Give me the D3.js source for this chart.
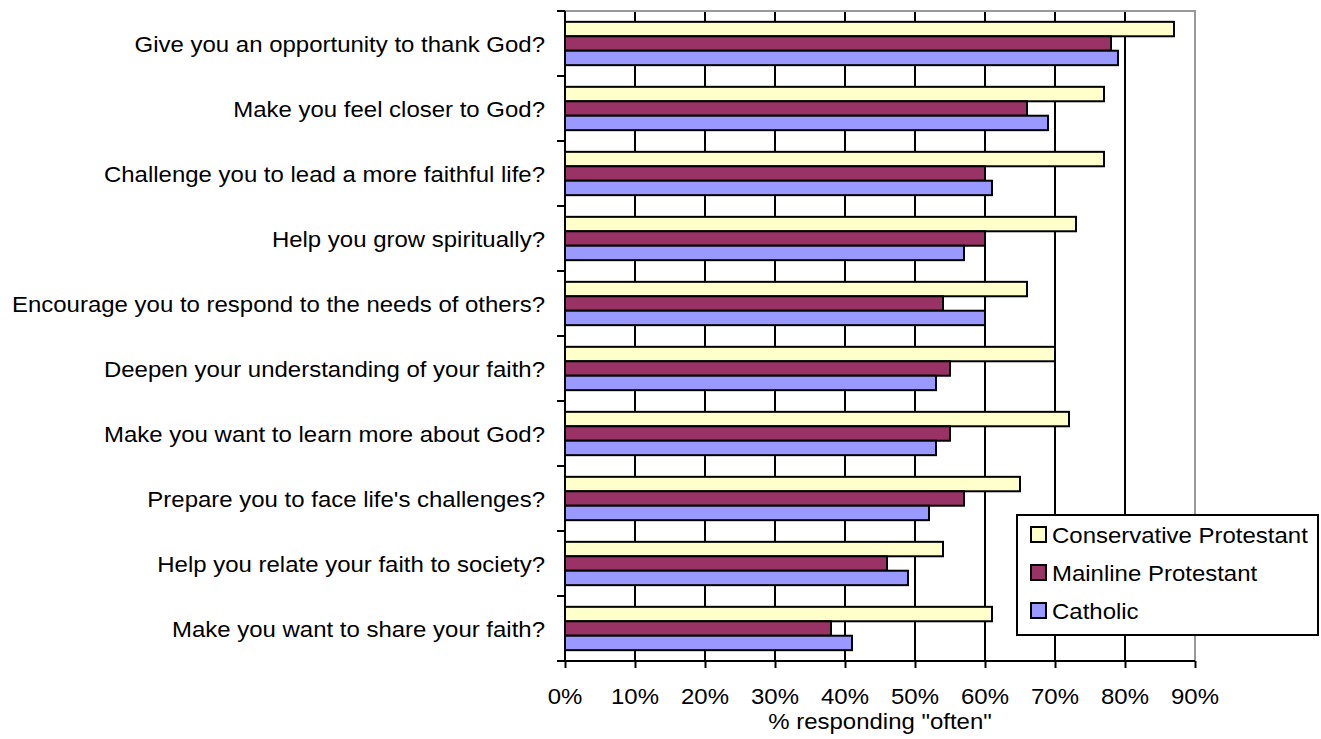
<!DOCTYPE html>
<html>
<head>
<meta charset="utf-8">
<script src="https://d3js.org/d3.v7.min.js"></script>
<style>
  body { margin: 0; background: #fff; }
  text { font-family: Arial, "Liberation Sans", sans-serif; fill: #000; }
</style>
</head>
<body>
<div id="chart"></div>
<script>
var categories = [
  "Give you an opportunity to thank God?",
  "Make you feel closer to God?",
  "Challenge you to lead a more faithful life?",
  "Help you grow spiritually?",
  "Encourage you to respond to the needs of others?",
  "Deepen your understanding of your faith?",
  "Make you want to learn more about God?",
  "Prepare you to face life's challenges?",
  "Help you relate your faith to society?",
  "Make you want to share your faith?"
];
var conservative = [87, 77, 77, 73, 66, 70, 72, 65, 54, 61];
var mainline = [78, 66, 60, 60, 54, 55, 55, 57, 46, 38];
var catholic = [79, 69, 61, 57, 60, 53, 53, 52, 49, 41];
var seriesNames = ["Conservative Protestant", "Mainline Protestant", "Catholic"];
var seriesColors = ["#FFFFCC", "#993366", "#9999FF"];
var xTicks = [0, 10, 20, 30, 40, 50, 60, 70, 80, 90];

var width = 1321, height = 739;
var plotLeft = 565, plotRight = 1195, plotTop = 11, plotBottom = 661;
var fontSize = 22, stretch = 1.09; // text in the original is a bit wide

var series = [conservative, mainline, catholic];

var svg = d3.select("#chart").append("svg")
  .attr("width", width).attr("height", height);

var x = d3.scaleLinear().domain([0, 90]).range([plotLeft, plotRight]);
var y = d3.scaleBand().domain(categories).range([plotTop, plotBottom]);
var inner = d3.scaleBand().domain(d3.range(3))
  .range([0, y.bandwidth()]).paddingOuter(0.75).paddingInner(0);

function label(g, tx, ty, str, anchor) {
  return g.append("text")
    .attr("transform", "translate(" + tx + "," + ty + ") scale(" + stretch + ",1)")
    .attr("text-anchor", anchor)
    .style("font-size", fontSize + "px")
    .text(str);
}

// gridlines
svg.append("g").selectAll("line")
  .data(xTicks.filter(function (d) { return d > 0 && d < 90; }))
  .enter().append("line")
  .attr("x1", function (d) { return x(d); }).attr("x2", function (d) { return x(d); })
  .attr("y1", plotTop).attr("y2", plotBottom)
  .attr("stroke", "#000").attr("stroke-width", 2);

// plot border (grey top and right)
svg.append("path")
  .attr("d", "M" + plotLeft + "," + plotTop + "H" + plotRight + "V" + plotBottom)
  .attr("fill", "none").attr("stroke", "#999").attr("stroke-width", 2);

// bars
series.forEach(function (vals, si) {
  svg.append("g").selectAll("rect")
    .data(vals)
    .enter().append("rect")
    .attr("x", x(0))
    .attr("y", function (d, i) { return y(categories[i]) + inner(si); })
    .attr("width", function (d) { return x(d) - x(0); })
    .attr("height", inner.bandwidth())
    .attr("fill", seriesColors[si])
    .attr("stroke", "#000").attr("stroke-width", 2);
});

// x axis
var xAxis = d3.axisBottom(x).tickValues(xTicks).tickSize(7).tickFormat(function () { return ""; });
var gx = svg.append("g").attr("transform", "translate(0," + plotBottom + ")").call(xAxis);
gx.select(".domain").attr("stroke-width", 2).attr("d", "M" + plotLeft + ",0H" + plotRight);
gx.selectAll(".tick line").attr("stroke-width", 2);
xTicks.forEach(function (t) { label(svg, x(t), 704, t + "%", "middle"); });
label(svg, (plotLeft + plotRight) / 2, 729, "% responding \"often\"", "middle");

// y axis
var bounds = d3.range(categories.length + 1).map(function (i) { return plotTop + i * y.step(); });
var gy = svg.append("g");
gy.append("line").attr("x1", plotLeft).attr("x2", plotLeft).attr("y1", plotTop).attr("y2", plotBottom)
  .attr("stroke", "#000").attr("stroke-width", 2);
gy.selectAll("line.tk").data(bounds).enter().append("line").attr("class", "tk")
  .attr("x1", plotLeft - 8).attr("x2", plotLeft)
  .attr("y1", function (d) { return d; }).attr("y2", function (d) { return d; })
  .attr("stroke", "#000").attr("stroke-width", 2);
categories.forEach(function (c) {
  label(svg, 545, y(c) + y.bandwidth() / 2 + 8, c, "end");
});

// legend
var lg = svg.append("g").attr("transform", "translate(1017,515)");
lg.append("rect").attr("width", 301).attr("height", 120)
  .attr("fill", "#fff").attr("stroke", "#000").attr("stroke-width", 2);
seriesNames.forEach(function (n, i) {
  var ry = 12 + i * 38;
  lg.append("rect").attr("x", 14).attr("y", ry).attr("width", 15).attr("height", 15)
    .attr("fill", seriesColors[i]).attr("stroke", "#000").attr("stroke-width", 2);
  label(lg, 35, ry + 16, n, "start");
});
</script>
</body>
</html>
